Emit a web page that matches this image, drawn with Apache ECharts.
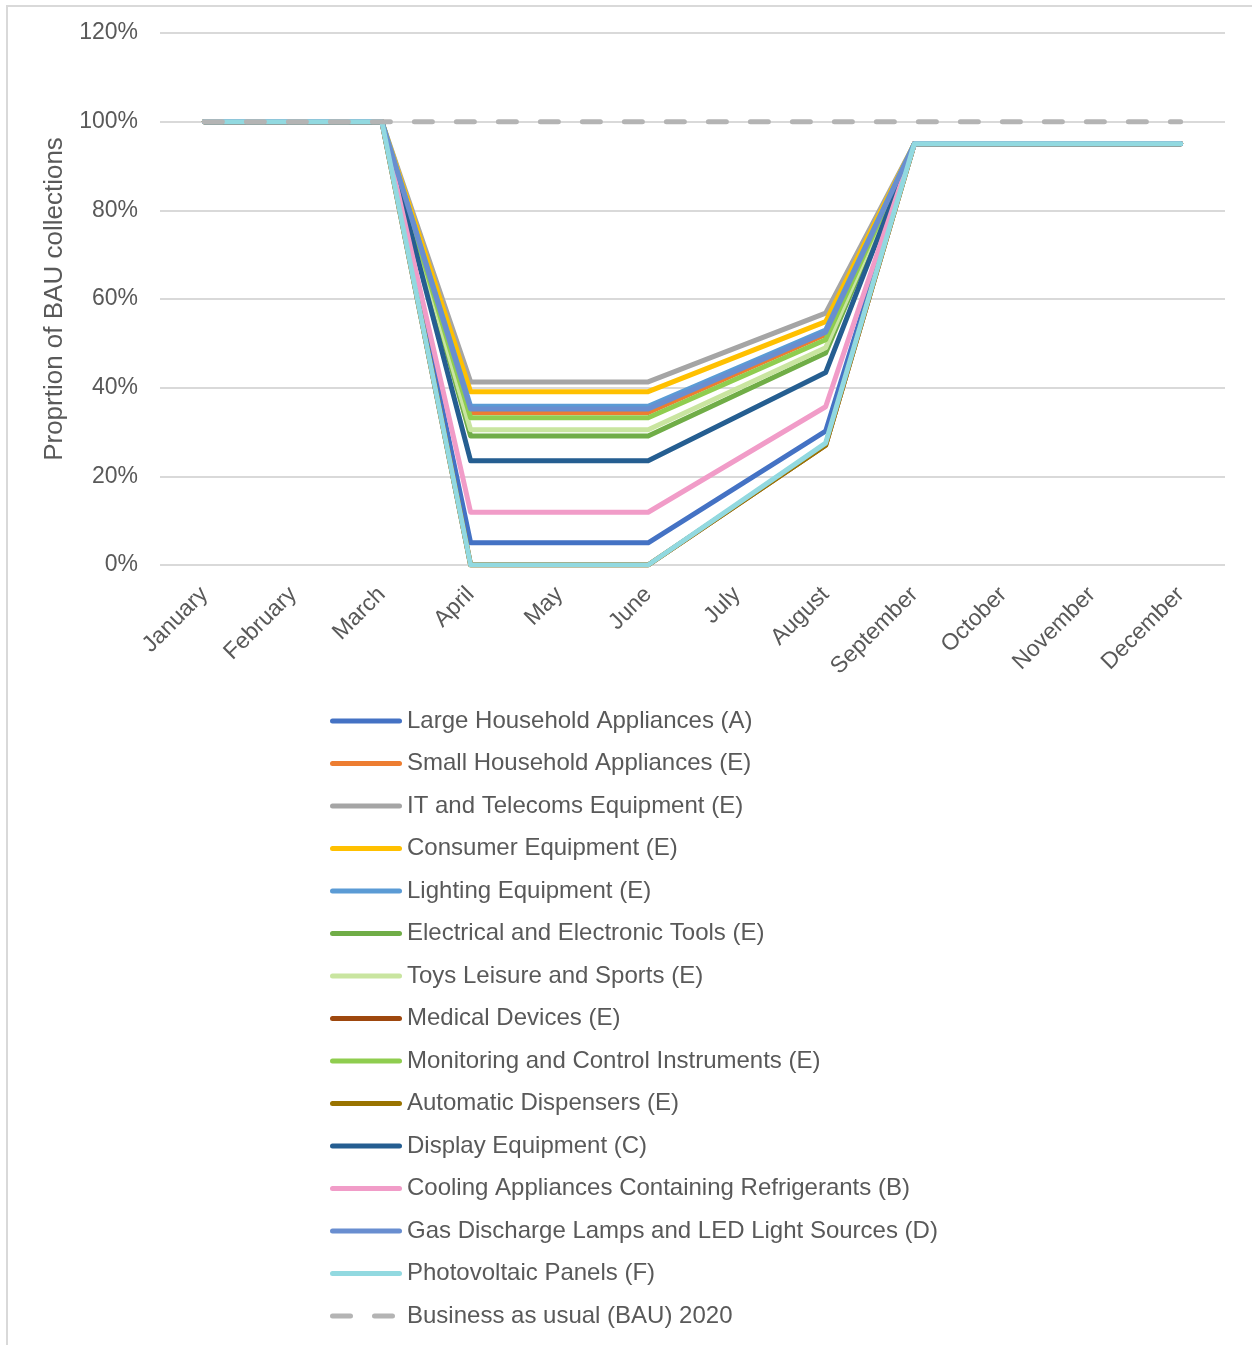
<!DOCTYPE html>
<html>
<head>
<meta charset="utf-8">
<script src="https://cdn.jsdelivr.net/npm/echarts@6/dist/echarts.min.js"></script>
<style>
html,body{margin:0;padding:0;background:#fff;}
#frame{position:absolute;left:6px;top:5px;width:1250px;height:1350px;border:2px solid #d9d9d9;box-sizing:border-box;}
#chart{position:absolute;left:0;top:0;width:1252px;height:1345px;}
</style>
</head>
<body>
<div id="frame"></div>
<div id="chart"></div>
<script>
const months = ['January','February','March','April','May','June','July','August','September','October','November','December'];
const yTicks = [0,20,40,60,80,100,120];

const largeHousehold   = [100,100,100, 5.0, 5.0, 5.0, null,30.2,95,95,95,95];
const smallHousehold   = [100,100,100,34.4,34.4,34.4, null,52.0,95,95,95,95];
const itTelecoms       = [100,100,100,41.3,41.3,41.3, null,56.8,95,95,95,95];
const consumerEquip    = [100,100,100,39.1,39.1,39.1, null,54.9,95,95,95,95];
const lightingEquip    = [100,100,100,35.8,35.8,35.8, null,53.0,95,95,95,95];
const electricalTools  = [100,100,100,29.1,29.1,29.1, null,47.8,95,95,95,95];
const toysLeisure      = [100,100,100,30.5,30.5,30.5, null,49.0,95,95,95,95];
const medicalDevices   = [100,100,100, 0.0, 0.0, 0.0, null,27.0,95,95,95,95];
const monitoringInstr  = [100,100,100,33.2,33.2,33.2, null,50.8,95,95,95,95];
const autoDispensers   = [100,100,100, 0.0, 0.0, 0.0, null,27.0,95,95,95,95];
const displayEquip     = [100,100,100,23.5,23.5,23.5, null,43.4,95,95,95,95];
const coolingAppl      = [100,100,100,11.9,11.9,11.9, null,35.7,95,95,95,95];
const gasDischarge     = [100,100,100,35.2,35.2,35.2, null,52.5,95,95,95,95];
const photovoltaic     = [100,100,100, 0.0, 0.0, 0.0, null,27.5,95,95,95,95];
const bau2020          = [100,100,100,100,100,100,100,100,100,100,100,100];

const seriesDefs = [
  ['Large Household Appliances (A)', largeHousehold, '#4472C4'],
  ['Small Household Appliances (E)', smallHousehold, '#ED7D31'],
  ['IT and Telecoms Equipment (E)', itTelecoms, '#A5A5A5'],
  ['Consumer Equipment (E)', consumerEquip, '#FFC000'],
  ['Lighting Equipment (E)', lightingEquip, '#5B9BD5'],
  ['Electrical and Electronic Tools (E)', electricalTools, '#70AD47'],
  ['Toys Leisure and Sports (E)', toysLeisure, '#C9E5A0'],
  ['Medical Devices (E)', medicalDevices, '#9E480E'],
  ['Monitoring and Control Instruments (E)', monitoringInstr, '#8FCD4F'],
  ['Automatic Dispensers (E)', autoDispensers, '#997300'],
  ['Display Equipment (C)', displayEquip, '#255E91'],
  ['Cooling Appliances Containing Refrigerants (B)', coolingAppl, '#F19CC8'],
  ['Gas Discharge Lamps and LED Light Sources (D)', gasDischarge, '#698ED0'],
  ['Photovoltaic Panels (F)', photovoltaic, '#92D9E0']
];
const bauName = 'Business as usual (BAU) 2020';

const series = seriesDefs.map(([name, data, color]) => ({
  name, type: 'line', data, connectNulls: true, symbol: 'none', smooth: false,
  lineStyle: { color, width: 5, cap: 'round', join: 'round' },
  itemStyle: { color },
  animation: false
}));
series.push({
  name: bauName, type: 'line', data: bau2020, symbol: 'none',
  lineStyle: { color: '#B4B4B4', width: 5, type: [18, 24], cap: 'round' },
  itemStyle: { color: '#B4B4B4' },
  animation: false
});

const solidIcon = 'path://M2.5,0 H69.5 A2.5,2.5 0 0 1 69.5,5 H2.5 A2.5,2.5 0 0 1 2.5,0 Z';
const dashIcon = 'path://M2.5,0 H20.5 A2.5,2.5 0 0 1 20.5,5 H2.5 A2.5,2.5 0 0 1 2.5,0 Z M44.5,0 H62.5 A2.5,2.5 0 0 1 62.5,5 H44.5 A2.5,2.5 0 0 1 44.5,0 Z M72,2.5 L72,2.5';

const chart = echarts.init(document.getElementById('chart'), null, { renderer: 'canvas' });
chart.setOption({
  animation: false,
  grid: { left: 160, right: 27, top: 33, bottom: 780, containLabel: false },
  xAxis: {
    type: 'category', data: months, boundaryGap: true,
    axisLine: { show: false }, axisTick: { show: false },
    axisLabel: { rotate: 45, interval: 0, margin: 26, color: '#595959', fontSize: 23, fontFamily: 'Liberation Sans, Arial, sans-serif' }
  },
  yAxis: {
    type: 'value', min: 0, max: 120, interval: 20,
    name: 'Proprtion of BAU collections', nameLocation: 'middle', nameGap: 92,
    nameTextStyle: { color: '#595959', fontSize: 26, fontFamily: 'Liberation Sans, Arial, sans-serif' },
    axisLine: { show: false }, axisTick: { show: false },
    axisLabel: { formatter: v => yTicks.includes(v) ? v + '%' : '', margin: 22, lineHeight: 23, padding: [8,0,0,0], color: '#595959', fontSize: 23, fontFamily: 'Liberation Sans, Arial, sans-serif' },
    splitLine: { lineStyle: { color: '#D9D9D9', width: 2 } }
  },
  legend: {
    orient: 'vertical', left: 330, top: 709, padding: 0,
    itemWidth: 72, itemHeight: 5, itemGap: 18.5,
    textStyle: { color: '#595959', fontSize: 24, lineHeight: 24, fontFamily: 'Liberation Sans, Arial, sans-serif' },
    data: series.map(s => ({ name: s.name, icon: s.name === bauName ? dashIcon : solidIcon }))
  },
  series
});
</script>
</body>
</html>
